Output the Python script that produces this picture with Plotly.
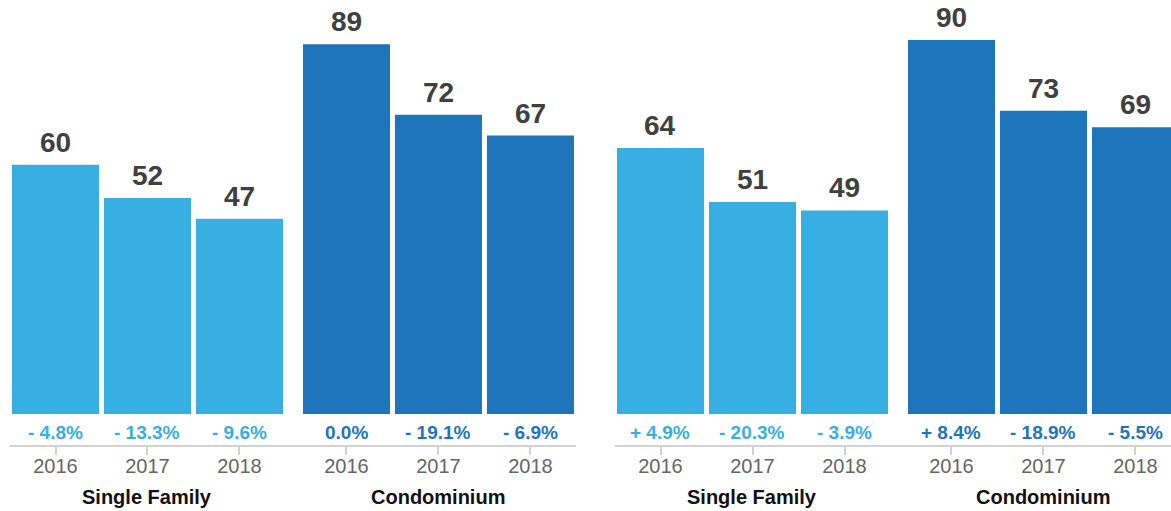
import plotly.graph_objects as go

# ---- data ----
years = ["2016", "2017", "2018"]
groups = ["Single Family", "Condominium"]

left_sf = [60, 52, 47]
left_condo = [89, 72, 67]
left_sf_pct = ["- 4.8%", "- 13.3%", "- 9.6%"]
left_condo_pct = ["0.0%", "- 19.1%", "- 6.9%"]

right_sf = [64, 51, 49]
right_condo = [90, 73, 69]
right_sf_pct = ["+ 4.9%", "- 20.3%", "- 3.9%"]
right_condo_pct = ["+ 8.4%", "- 18.9%", "- 5.5%"]

# ---- styling / layout ----
W, H = 1171, 511
LIGHT = "#38AFE3"
DARK = "#1F75BC"
FONT = "Liberation Sans, Arial, Helvetica, sans-serif"
VALUE_COLOR = "#404040"
YEAR_COLOR = "#666666"

sf_pos = [0, 1, 2]
condo_pos = [3.163, 4.163, 5.163]
bar_w = 0.946
group_centers = [1.0, 4.163]

panels = [
    dict(sf=left_sf, condo=left_condo, sfp=left_sf_pct, cp=left_condo_pct,
         xa="x", ya="y"),
    dict(sf=right_sf, condo=right_condo, sfp=right_sf_pct, cp=right_condo_pct,
         xa="x2", ya="y2"),
]

fig = go.Figure()
annotations = []

for p in panels:
    for pos, vals, pcts, col in [(sf_pos, p["sf"], p["sfp"], LIGHT),
                                 (condo_pos, p["condo"], p["cp"], DARK)]:
        fig.add_trace(go.Bar(
            x=pos, y=vals, width=bar_w, marker=dict(color=col, line=dict(width=0)),
            xaxis=p["xa"], yaxis=p["ya"], showlegend=False, hoverinfo="skip"))
        for xv, v, pc in zip(pos, vals, pcts):
            annotations.append(dict(
                x=xv, y=v, xref=p["xa"], yref=p["ya"], text=str(v),
                showarrow=False, yanchor="bottom", yshift=5,
                font=dict(family=FONT, size=28, color=VALUE_COLOR, weight="bold")))
            annotations.append(dict(
                x=xv, y=-4.57, xref=p["xa"], yref=p["ya"], text=pc,
                showarrow=False, yanchor="middle",
                font=dict(family=FONT, size=19, color=col, weight="bold")))
    for gx, g in zip(group_centers, groups):
        annotations.append(dict(
            x=gx, y=-0.1169, xref=p["xa"], yref="paper", text=g,
            showarrow=False, yanchor="middle",
            font=dict(family=FONT, size=20, color="#111111", weight="bold")))

tickvals = sf_pos + condo_pos
ticktext = years + years

xaxis_common = dict(
    tickmode="array", tickvals=tickvals, ticktext=ticktext,
    showgrid=False, zeroline=False, showline=True, linecolor="#d3d3d3",
    linewidth=2, ticks="outside", ticklen=8, tickwidth=2, tickcolor="#d3d3d3",
    ticklabelstandoff=-6,
    tickfont=dict(family=FONT, size=20, color=YEAR_COLOR), fixedrange=True)
yaxis_common = dict(range=[-7.46, 99.64], visible=False, showgrid=False,
                    zeroline=False, fixedrange=True)

fig.update_layout(
    width=W, height=H,
    margin=dict(l=0, r=0, t=0, b=66),
    paper_bgcolor="white", plot_bgcolor="white",
    barmode="overlay",
    xaxis=dict(domain=[10 / W, 576 / W], range=[-0.4946, 5.658], **xaxis_common),
    xaxis2=dict(domain=[615 / W, 1.0], range=[-0.4946, 5.549], anchor="y2",
                **xaxis_common),
    yaxis=dict(domain=[0, 1], anchor="x", **yaxis_common),
    yaxis2=dict(domain=[0, 1], anchor="x2", **yaxis_common),
    annotations=annotations,
    font=dict(family=FONT),
)

fig.write_html(
    "out.html",
    config={"displayModeBar": False},
    post_script="document.body.style.margin='0';document.body.style.overflow='hidden';",
)
